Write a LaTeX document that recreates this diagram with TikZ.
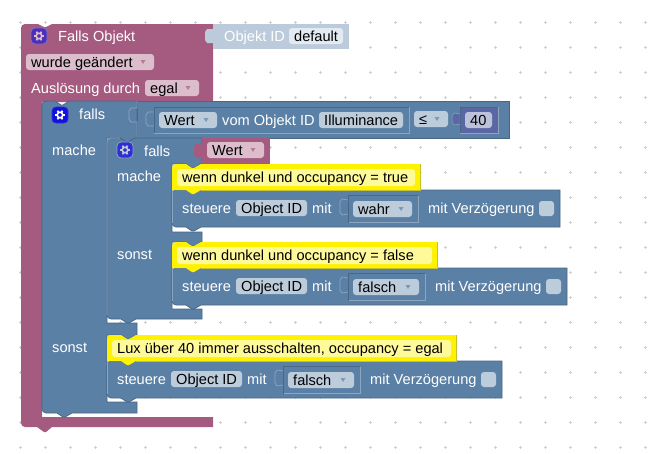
\documentclass[tikz,border=0pt]{standalone}
\usepackage{fontspec}
\setmainfont{Liberation Sans}
\usetikzlibrary{positioning}
\definecolor{blockpink}{HTML}{A55B80}
\definecolor{blockblue}{HTML}{5B80A5}
\definecolor{blockdark}{HTML}{496684}
\definecolor{blocklight}{HTML}{8CA6C0}
\definecolor{blockpurple}{HTML}{5B67A5}
\definecolor{fieldpink}{HTML}{DBBDCC}
\definecolor{fieldblue}{HTML}{BDCCDB}
\definecolor{fieldpurple}{HTML}{BDC2DB}
\definecolor{shadowblue}{HTML}{BBCBDB}
\definecolor{griddot}{HTML}{D0D0D0}
\definecolor{gearpurple}{HTML}{4D2EB8}
\definecolor{gearedge}{HTML}{8070D0}
\definecolor{gearblue}{HTML}{1010E0}
\definecolor{gearmid}{HTML}{3030D0}
\tikzset{
  lbl/.style={anchor=base west, inner sep=0pt, text=white, font=\fontsize{14.6}{14}\selectfont},
  fieldtxt/.style={anchor=base west, inner sep=0pt, text=black, font=\fontsize{14.6}{14}\selectfont},
  bluebody/.style={fill=blockblue, draw=blockdark, line width=.7pt},
  shine/.style={draw=blocklight, line width=.7pt},
  tabline/.style={draw=blocklight, line width=.7pt, fill=blockblue}
}
% notch along a bottom edge (going left) and a top edge (going right)
\newcommand{\notchL}[2]{-- ({#1+29},#2) -- ({#1+22},{#2+4}) -- ({#1+20},{#2+4}) -- ({#1+14},#2)}
\newcommand{\notchR}[2]{-- ({#1+14},#2) -- ({#1+20},{#2+4}) -- ({#1+22},{#2+4}) -- ({#1+29},#2)}
% left, top, right, bottom
\newcommand{\inboxrect}[4]{%
  \draw[blocklight, line width=.7pt] (#1,#4) -- (#3,#4) -- (#3,#2);
  \draw[blockdark, line width=.7pt] (#1,#4) -- (#1,#2) -- (#3,#2);
}
% name, left, top, right, bottom, fill colour, arrow colour, text
\newcommand{\ddfield}[8]{%
  \fill[#6, rounded corners=3pt] (#2,#3) rectangle (#4,#5);
  \node[fieldtxt] (#1) at ({#2+5},{(#3+#5)/2+5}) {#8};
  \fill[#7!80!white] ({#4-13.5},{(#3+#5)/2-2}) -- ({#4-8.5},{(#3+#5)/2-2}) -- ({#4-11},{(#3+#5)/2+2}) -- cycle;
}
% name, left, top, fill colour, gear colour, edge colour
\newcommand{\gearbox}[6]{%
  \fill[#4, draw=#6, line width=.8pt, rounded corners=4pt] (#2,#3) rectangle ({#2+16},{#3+16});
  \coordinate (#1) at ({#2+8},{#3+8});
  \foreach \a in {0,60,...,300}{
    \draw[#5, line width=1.7pt] (#1) ++(\a:2.8) -- ++(\a:2.2);
  }
  \draw[#5, line width=1.6pt] (#1) circle (2.8);
}
% the row that sets the state: left, top, right, right of value box, value, checkbox gap, name
\newcommand{\steuerrow}[7]{%
  \draw[bluebody] ({#1+4},#2) -- (#3,#2) -- (#3,{#2+37}) \notchL{#1}{#2+37} -- ({#1+4},{#2+37}) arc (90:180:4) -- (#1,{#2+4}) arc (180:270:4) -- cycle;
  \draw[shine] (#1,{#2+33}) -- (#1,#2);
  \node[lbl] (#7st) at ({#1+10},{#2+23}) {steuere};
  \fill[fieldblue, rounded corners=3pt] ({#1+64},{#2+10}) rectangle ({#1+135},{#2+26});
  \node[fieldtxt] (#7id) at ({#1+69},{#2+23}) {Object ID};
  \node[lbl] (#7mit) at ({#1+140},{#2+23}) {mit};
  \draw[tabline] ({#1+176},{#2+10}) -- ({#1+170},{#2+9}) -- ({#1+168},{#2+12}) -- ({#1+168},{#2+22}) -- ({#1+170},{#2+25}) -- ({#1+176},{#2+24});
  \fill[blockblue] ({#1+171},{#2+11}) rectangle ({#1+177},{#2+23});
  \inboxrect{#1+176}{#2+5.5}{#4}{#2+32.5}
  \ddfield{#7val}{#1+181}{#2+11}{#4-6}{#2+27}{fieldblue}{blockblue}{#5}
  \node[lbl] (#7vz) at ({#4+10},{#2+23}) {mit Verzögerung};
  \fill[fieldblue, rounded corners=3pt] ({#4+#6},{#2+11}) rectangle ({#4+#6+15},{#2+26});
}
% the yellow comment: left, top, right, text, name
\newcommand{\commentrow}[5]{%
  \fill[yellow] ({#1+4},#2) \notchR{#1}{#2} -- (#3,#2) -- (#3,{#2+26}) -- ({#1+29},{#2+26}) -- ({#1+22},{#2+30}) -- ({#1+20},{#2+30}) -- ({#1+14},{#2+26}) -- (#1,{#2+26}) -- (#1,{#2+4}) arc (180:270:4) -- cycle;
  \draw[yellow!75!black, line width=.6pt] (#3,#2) -- (#3,{#2+26}) -- ({#1+29},{#2+26});
  \fill[yellow!40!white, rounded corners=3pt] ({#1+5},{#2+5}) rectangle ({#3-5},{#2+22});
  \node[fieldtxt] (#5) at ({#1+10},{#2+18}) {#4};
}
\begin{document}
\begin{tikzpicture}[x=1pt, y=-1pt]
  \useasboundingbox (0,0) rectangle (661,453);
  % grid
  \foreach \x in {20,45,...,645}
  {
    \foreach \y in {22,47,...,447}
    {
      \draw[griddot, line width=.6pt] (\x-1.5,\y)--(\x+1.5,\y) (\x,\y-1.5)--(\x,\y+1.5);
    }
  }

  % trigger block
  \fill[blockpink] (25,24)--(38,24)--(44,27)--(46,27)--(52,24)--(213,24)--(213,102)--(42,102)--(42,417)--(213,417)--(213,427)--(52,427)--(46,432)--(44,432)--(37,427)--(25,427) arc (90:180:4)--(21,28) arc (180:270:4)--cycle;
  \fill[shadowblue] (213,24) rectangle (349,49);
  \fill[shadowblue] (213,29)--(207,29)--(205,32)--(205,40)--(207,43)--(213,43)--cycle;
  \node[lbl] (oid) at (224,41) {Objekt ID};
  \fill[white!60!shadowblue, rounded corners=3pt] (289,28) rectangle (343,44);
  \node[fieldtxt] (oidval) at (294,41) {default};
  \gearbox{gearA}{31}{28}{gearpurple}{fieldpink}{gearedge}
  \node[lbl] (head) at (58,41) {Falls Objekt};
  \ddfield{changed}{26}{54}{154}{70}{fieldpink}{blockpink}{wurde geändert}
  \node[lbl] (trig) at (31,93) {Auslösung durch};
  \ddfield{trigval}{145}{80}{199}{96}{fieldpink}{blockpink}{egal}

  % outer if
  \draw[bluebody] (46,101)--(55,101)--(61,105)--(63,105)--(69,101)--(137,101)--(137,138) \notchL{106}{138} --(107,138)--(107,323)--(137,323)--(137,335) \notchL{107}{335} --(107,335)--(107,402)--(137,402)--(137,413)--(72,413)--(65,417)--(63,417)--(57,413)--(46,413) arc (90:180:4)--(42,105) arc (180:270:4)--cycle;
  \draw[bluebody] (137,101) rectangle (509,138);
  \draw[blocklight, line width=.7pt] (137,101)--(137,108)--(131,108)--(129,111)--(129,119)--(131,122)--(137,122)--(137,138);
  \gearbox{gearB}{52}{107}{gearblue}{white}{gearmid}
  \node[lbl] (ifa) at (79,119) {falls};
  \node[lbl] (doa) at (52,155) {mache};
  \node[lbl] (elsea) at (52,352) {sonst};

  % condition
  \draw[tabline] (154,112)--(148,112)--(146,115)--(146,123)--(148,126)--(154,126);
  \inboxrect{154}{107}{409}{133}
  \ddfield{cond}{159}{112}{217}{128}{fieldblue}{blockblue}{Wert}
  \node[lbl] (cond2) at (222,125) {vom Objekt ID};
  \fill[fieldblue, rounded corners=3pt] (319,112) rectangle (403,128);
  \node[fieldtxt] (lux) at (324,125) {Illuminance};
  \ddfield{leq}{414}{111}{448}{127}{fieldblue}{blockblue}{≤}
  \fill[blockpurple] (460,107) rectangle (498,133);
  \fill[blockpurple, draw=blocklight, line width=.5pt] (460,114)--(454,113)--(452,116)--(452,122)--(454,125)--(460,124)--cycle;
  \inboxrect{460}{107}{498}{133}
  \fill[fieldpurple, rounded corners=3pt] (465,112) rectangle (492,128);
  \node[fieldtxt] (fourty) at (470,125) {40};

  % inner if
  \draw[bluebody] (111,138)--(120,138)--(126,142)--(128,142)--(135,138)--(202,138)--(202,164) \notchL{172}{164} --(172,164)--(172,232)--(202,232)--(202,242) \notchL{172}{242} --(172,242)--(172,309)--(202,309)--(202,319) \notchL{107}{319} --(111,319) arc (90:180:4)--(107,142) arc (180:270:4)--cycle;
  \draw[shine] (107,315)--(107,142) arc (180:270:4)--(120,138);
  \fill[blockpink] (202,138) rectangle (270,164);
  \fill[blockpink] (202,144)--(196,144)--(194,147)--(194,155)--(196,158)--(202,158)--cycle;
  \ddfield{inval}{207}{142}{264}{158}{fieldpink}{blockpink}{Wert}
  \gearbox{gearC}{117}{142}{gearmid}{fieldblue}{blocklight}
  \node[lbl] (ifb) at (144,156) {falls};
  \node[lbl] (dob) at (117,181) {mache};
  \node[lbl] (elseb) at (117,259) {sonst};

  % set blocks and their comments
  \steuerrow{172}{190}{560}{418}{wahr}{121}{sa}
  \commentrow{172}{164}{420}{wenn dunkel und occupancy = true}{ca}
  \steuerrow{172}{268}{567}{425}{falsch}{121}{sb}
  \commentrow{172}{242}{437}{wenn dunkel und occupancy = false}{cb}
  \steuerrow{107}{361}{502}{360}{falsch}{121}{sc}
  \commentrow{107}{335}{456}{Lux über 40 immer ausschalten, occupancy = egal}{cc}
\end{tikzpicture}
\end{document}
